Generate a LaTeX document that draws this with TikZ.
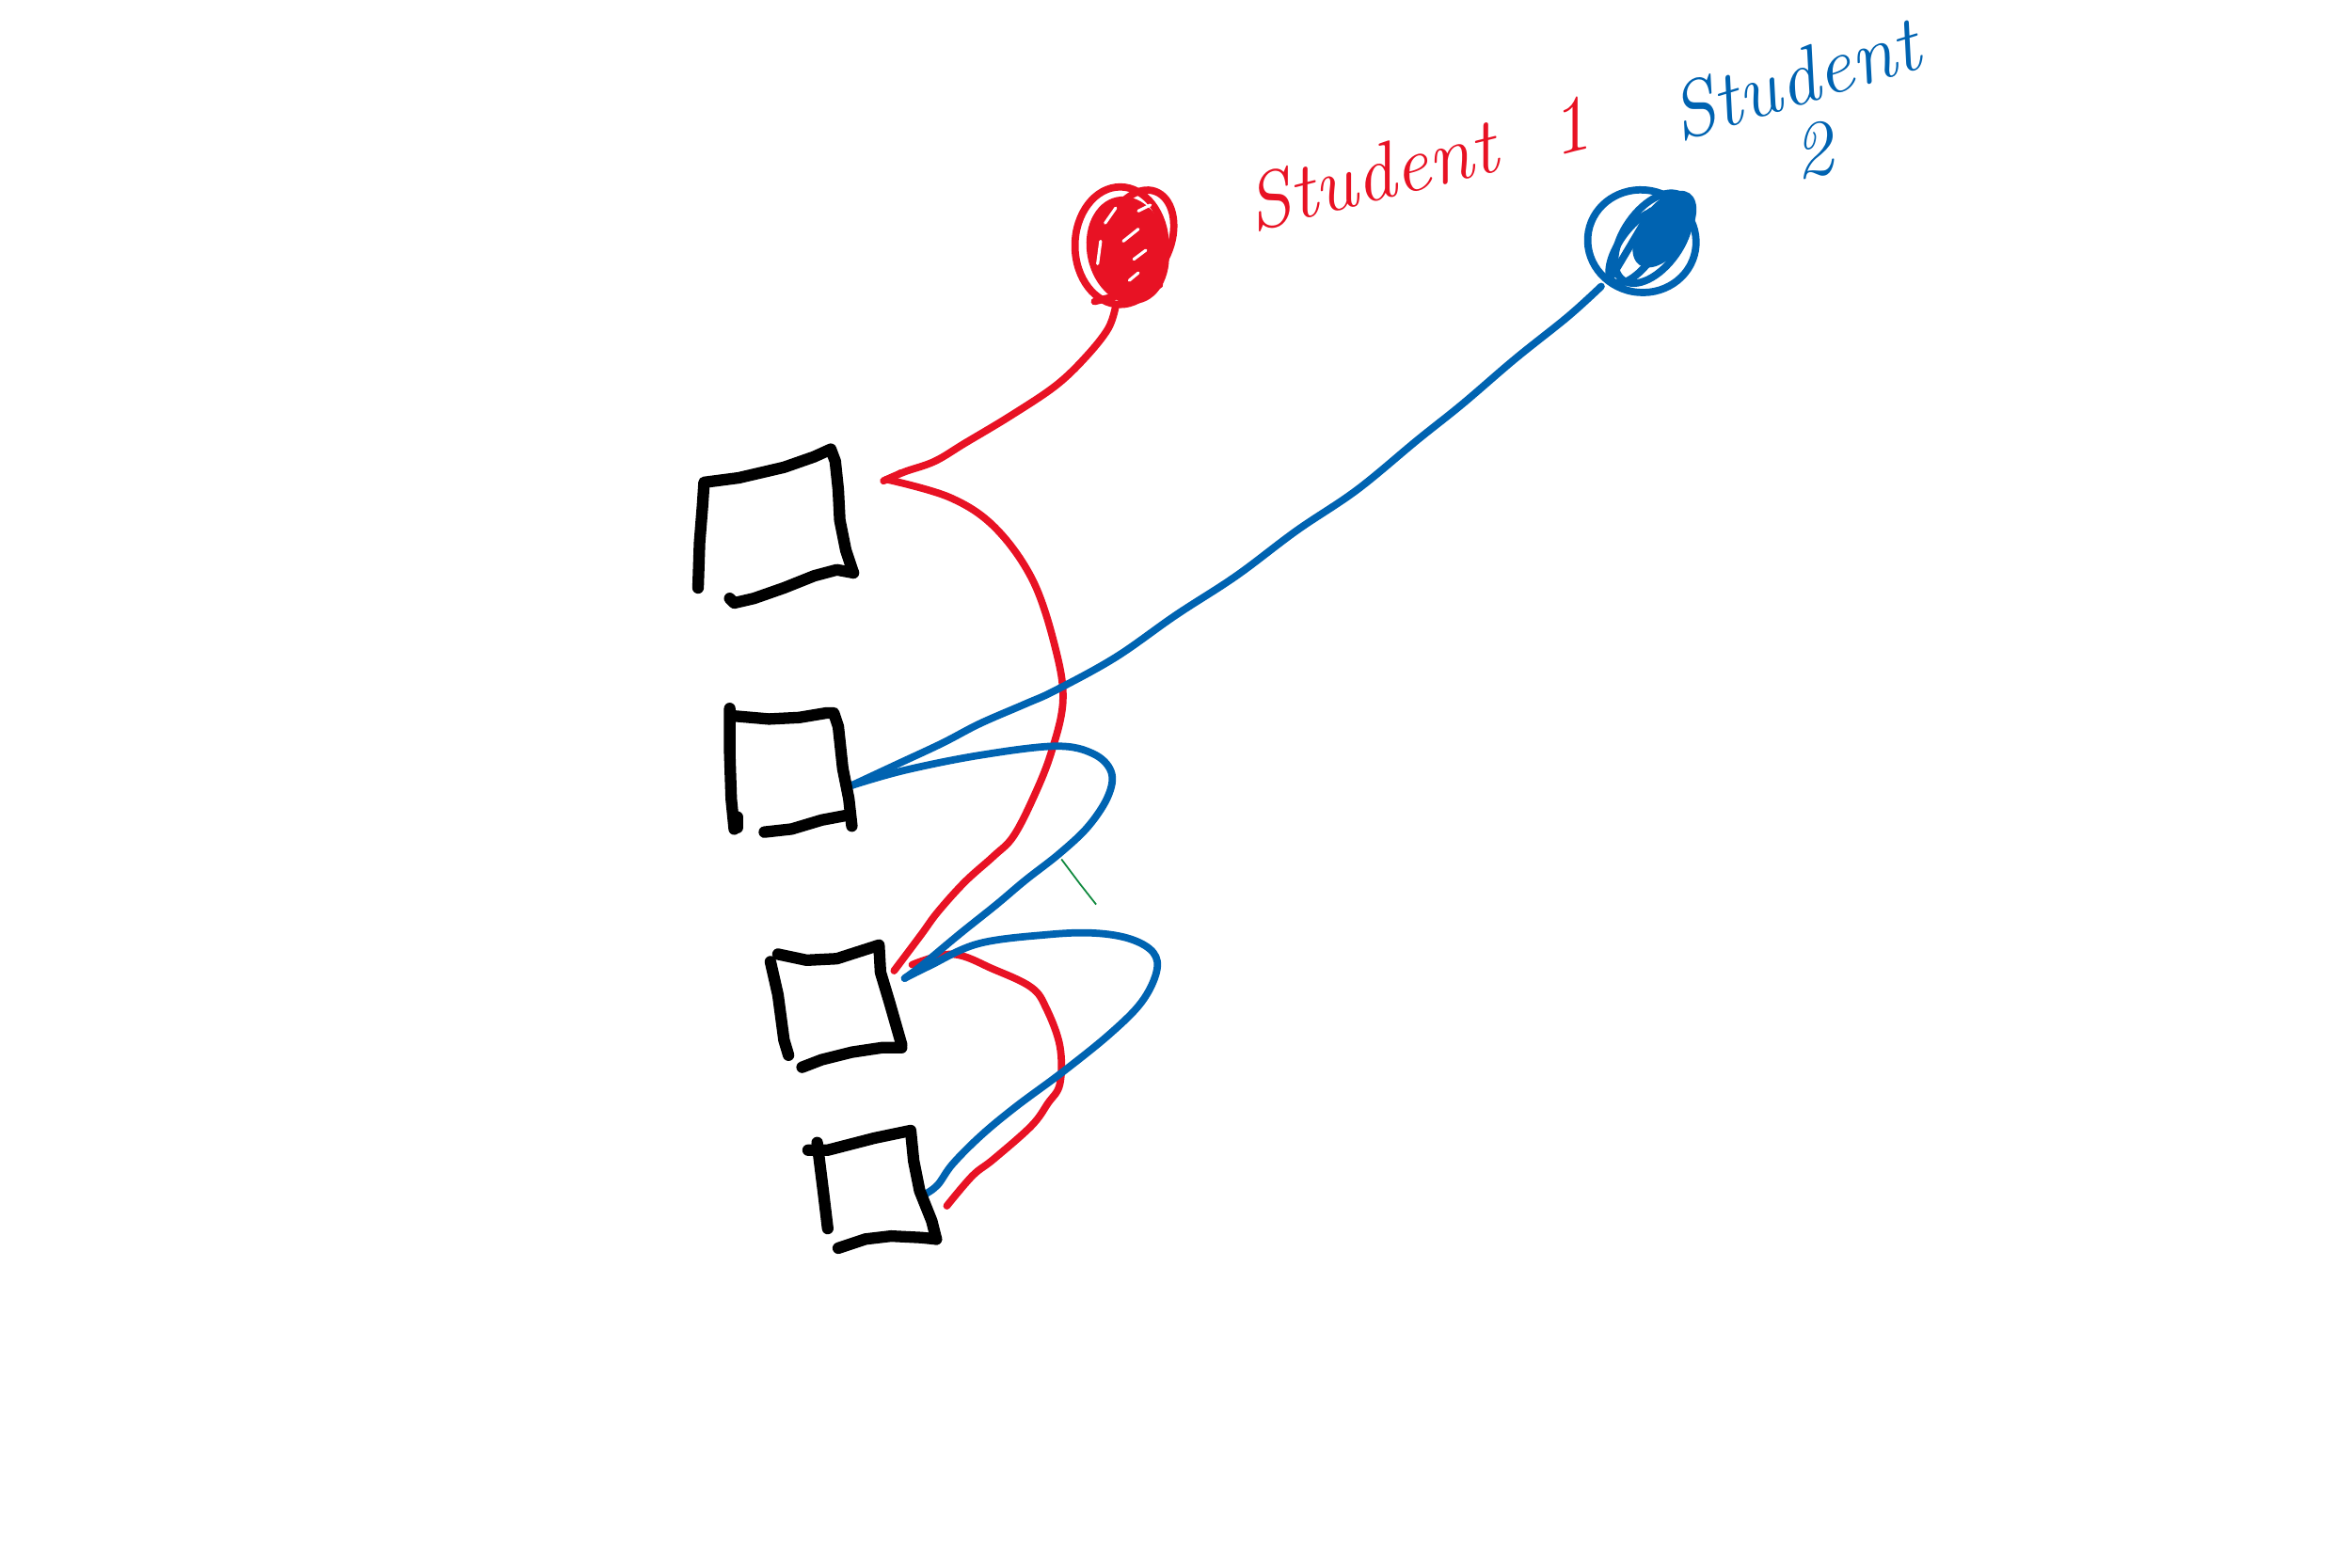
\documentclass[tikz,border=0pt]{standalone}
\definecolor{inkred}{HTML}{E81224}
\definecolor{inkblue}{HTML}{0063B1}
\definecolor{inkgreen}{HTML}{10893E}
\begin{document}
\begin{tikzpicture}[x=0.016026cm,y=-0.016026cm,
  ink/.style={line cap=round,line join=round},
  boxline/.style={ink,black,line width=3.5pt},
  redline/.style={ink,inkred,line width=2.2pt},
  blueline/.style={ink,inkblue,line width=2.2pt},
  gap/.style={ink,white,line width=0.9pt},
  hand/.style={font=\fontsize{24}{28}\selectfont\itshape,inner sep=0pt}]
\useasboundingbox[fill=white] (0,0) rectangle (1560,1040.2);

% red scribble
\fill[inkred, rotate around={12:(748,166)}] (748,166) ellipse[x radius=27,y radius=36];
\draw[redline] (743,163) ellipse[x radius=30, y radius=39];
\draw[redline, rotate around={-20:(755,158)}] (755,158) ellipse[x radius=22,y radius=33];
\draw[gap] (733,148) -- (740,138);
\draw[gap] (745,160) -- (755,152);
\draw[gap] (752,172) -- (760,166);
\draw[gap] (749,186) -- (755,181);
\draw[gap] (728,175) -- (730,160);
\draw[gap] (755,140) -- (763,136);
\draw[redline] (726,200) -- (769,189);

% red connectors
\draw[redline] plot[smooth,tension=0.6] coordinates {(740,203) (735,218) (720,237) (700,256) (670,276) (640,294) (620,306) (600,313) (586,319)};
\draw[redline,line width=1.4pt] (590,318) -- (597,313);
\draw[redline] plot[smooth,tension=0.6] coordinates {(588,318) (630,330) (660,350) (685,385) (700,430) (705,465) (697,500) (685,530) (672,555) (659,568) (640,585) (622,605) (611,620) (593,644)};
\draw[redline] plot[smooth,tension=0.6] coordinates {(605,640) (632,633) (659,643) (684,655) (694,669) (703,694) (703,719) (695,732) (684,747) (659,769) (645,780) (628,800)};

% blue scribble
\draw[blueline, rotate around={-10:(1089,160)}] (1089,160) ellipse[x radius=36,y radius=34];
\fill[inkblue, rotate around={-35:(1104,152)}] (1104,152) ellipse[x radius=16,y radius=29];
\draw[blueline, rotate around={-35:(1086,164)}] (1086,164) ellipse[x radius=12,y radius=28];
\draw[blueline, rotate around={-35:(1096,158)}] (1096,158) ellipse[x radius=19,y radius=34];
\draw[blueline] (1070,182) -- (1095,140);

% blue connectors
\draw[blueline] plot[smooth,tension=0.6] coordinates {(1062,190) (1040,210) (1005,238) (970,268) (940,292) (900,325) (860,352) (820,382) (780,408) (740,436) (700,458) (680,467) (650,480) (625,493) (595,507) (565,521)};
\draw[blueline] plot[smooth,tension=0.6] coordinates {(565,521) (600,511) (650,501) (700,495) (725,500) (737,512) (735,528) (722,548) (703,566) (680,584) (661,600) (636,620) (612,640) (600,649)};
\draw[blueline] plot[smooth,tension=0.6] coordinates {(600,649) (616,641) (649,626) (695,620) (726,619) (750,623) (765,632) (767,645) (757,665) (736,686) (705,711) (674,734) (651,753) (632,772) (622,786) (614,792)};

% green stroke
\draw[inkgreen,line width=0.5pt] (704,570) -- (716,586) -- (727,600);

% box 1
\draw[boxline] (463,390) -- (464,360) -- (466,335) -- (467,320) -- (490,317) -- (520,310) -- (540,303) -- (551,298) -- (554,306) -- (556,325) -- (557,345) -- (561,365) -- (566,380);
\draw[boxline] (566,380) -- (555,378) -- (540,382) -- (520,390) -- (500,397) -- (487,400) -- (484,397);
% box 2
\draw[boxline] (484,470) -- (484,500) -- (485,530) -- (487,550);
\draw[boxline] (487,475) -- (510,477) -- (530,476) -- (548,473) -- (553,473) -- (556,482) -- (559,510) -- (563,530) -- (565,548);
\draw[boxline] (561,541) -- (545,544) -- (525,550) -- (507,552);
\draw[boxline] (489,542) -- (489,549);
% box 3
\draw[boxline] (516,633) -- (535,637) -- (555,636) -- (583,627) -- (584,645) -- (590,665) -- (598,693);
\draw[boxline] (598,695) -- (585,695) -- (565,698) -- (545,703) -- (532,708);
\draw[boxline] (511,638) -- (516,660) -- (520,690) -- (523,700);
% box 4
\draw[boxline] (536,763) -- (549,763) -- (580,755) -- (604,750) -- (606,770) -- (610,790) -- (618,810) -- (621,822);
\draw[boxline] (621,822) -- (611,821) -- (591,820) -- (574,822) -- (556,828);
\draw[boxline] (542,758) -- (546,790) -- (549,815);

% labels
\node[hand, text=inkred, rotate=14] (s1) at (940,108) {Student\ \ 1};
\node[hand, text=inkblue, rotate=17] (s2) at (1190,52) {Student};
\node[hand, text=inkblue, rotate=10] (s2n) at (1202,100) {2};
\end{tikzpicture}
\end{document}
